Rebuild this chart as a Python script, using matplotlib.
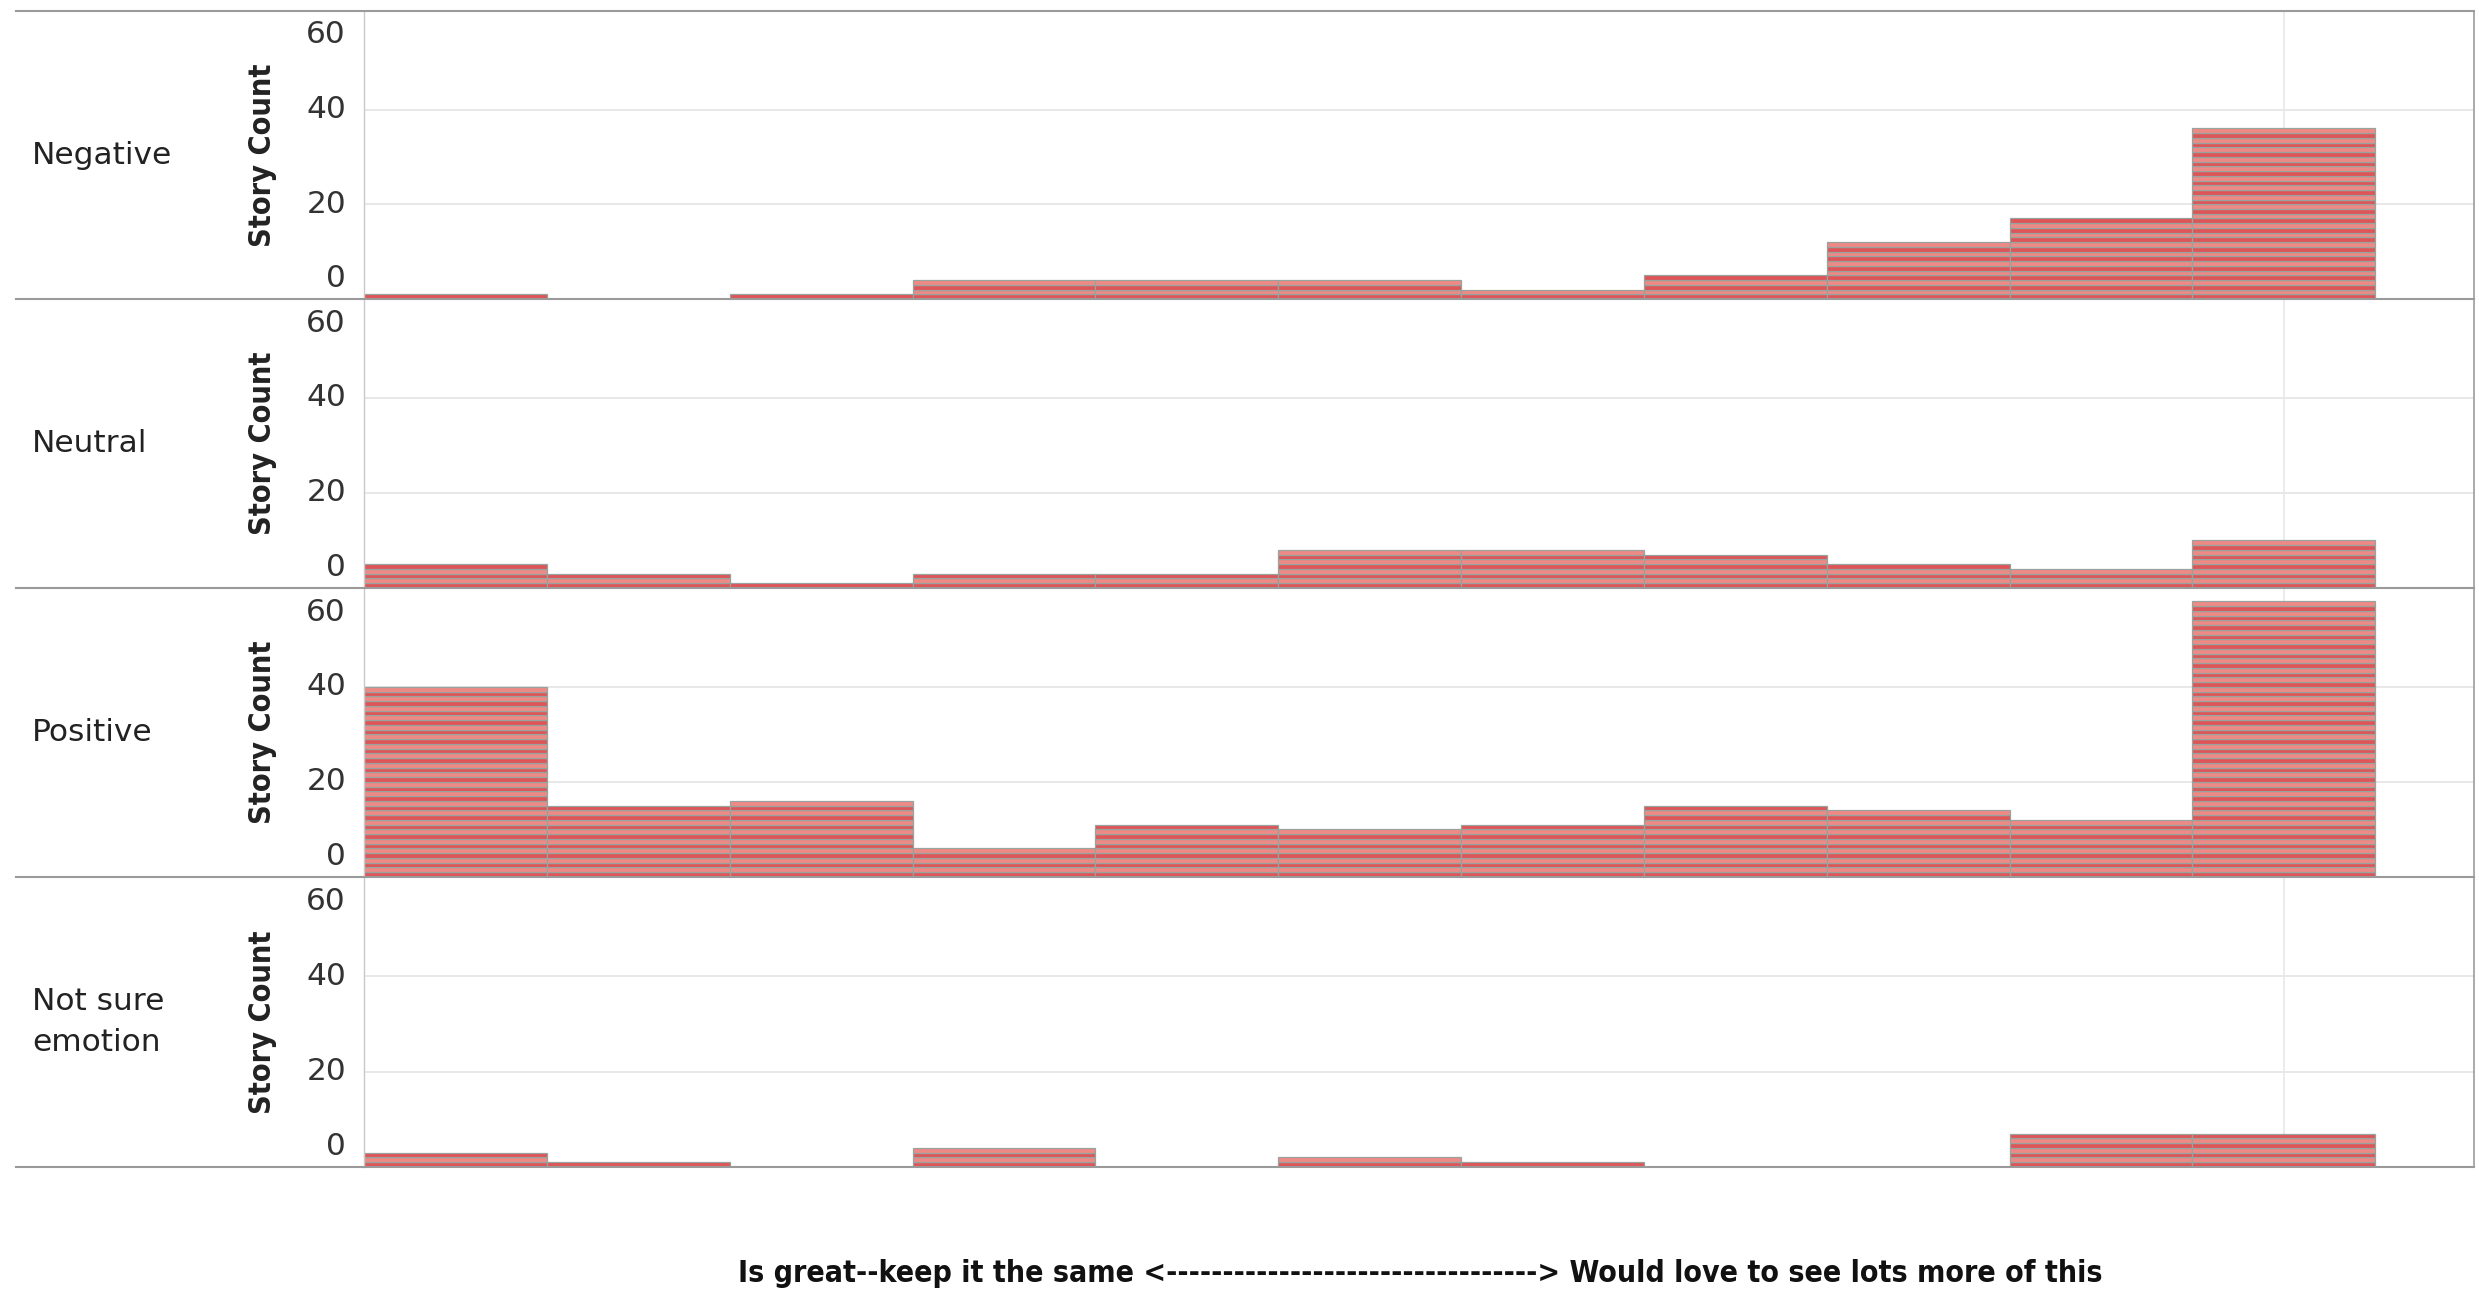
import matplotlib
matplotlib.use("Agg")
import matplotlib.pyplot as plt
from matplotlib.lines import Line2D

# score bins, left (keep it the same) to right (want lots more)
scores = list(range(11))
emotions = ["Negative", "Neutral", "Positive", "Not sure\nemotion"]

negative = [1, 0, 1, 4, 4, 4, 2, 5, 12, 17, 36]
neutral = [5, 3, 1, 3, 3, 8, 8, 7, 5, 4, 10]
positive = [40, 15, 16, 6, 11, 10, 11, 15, 14, 12, 58]
not_sure = [3, 1, 0, 4, 0, 2, 1, 0, 0, 7, 7]
counts = [negative, neutral, positive, not_sure]

y_ticks = [0, 20, 40, 60]
x_title = "Is great--keep it the same <" + "-" * 33 + "> Would love to see lots more of this"

W, H = 2479, 1298
fig = plt.figure(figsize=(W / 100, H / 100), dpi=100)
fig.patch.set_facecolor("white")

rows_px = [11, 299, 588, 877, 1167]
left_px, right_px = 364, 2474
stripe = ["#df5457", "#ee8985"]
edge = "#98a39e"

for k, (name, vals) in enumerate(zip(emotions, counts)):
    top, bot = rows_px[k], rows_px[k + 1]
    ax = fig.add_axes([left_px / W, 1 - bot / H, (right_px - left_px) / W, (bot - top) / H])
    ax.set_xlim(-0.5, 11.04)
    ax.set_ylim(0, 60.8)
    for y in [20, 40]:
        ax.axhline(y, color="#e4e4e4", lw=1.2, zorder=0)
    ax.axvline(10, color="#e8e8e8", lw=1.2, zorder=0)

    # one stacked block per story
    for x, v in zip(scores, vals):
        if v == 0:
            continue
        ax.bar([x] * v, [1] * v, bottom=list(range(v)), width=1.0,
               color=[stripe[j % 2] for j in range(v)],
               edgecolor=edge, linewidth=0.9, zorder=2)

    ax.set_xticks([])
    ax.set_yticks([])
    for s in ["top", "bottom"]:
        ax.spines[s].set_visible(False)
    ax.spines["left"].set_color("#c9c9c9")
    ax.spines["left"].set_linewidth(1.0)
    ax.spines["right"].set_color("#9c9c9c")
    ax.spines["right"].set_linewidth(1.2)

    # tick labels (0 and 60 pulled inside the panel like the original)
    ytr = ax.get_yaxis_transform()
    for t in y_ticks:
        va = "center"
        yy = t
        if t == 0:
            va, yy = "bottom", 1.2
        elif t == 60:
            va, yy = "top", 58.8
        ax.text(-0.0085, yy, str(t), transform=ytr, ha="right", va=va,
                fontsize=22.5, color="#333333")
    ax.text(-0.048, 0.5, "Story Count", transform=ax.transAxes, rotation=90,
            ha="center", va="center", fontsize=22, fontweight="bold",
            fontstretch="condensed", color="#222222")

    fig.text(32 / W, 1 - (top + bot) / 2 / H, name, ha="left", va="center",
             fontsize=22.5, color="#222222", linespacing=1.55)

# row dividers across label column and plot
for y in rows_px:
    fig.add_artist(Line2D([16 / W, right_px / W], [1 - y / H, 1 - y / H],
                          color="#9a9a9a", lw=1.5))

fig.text(1420 / W, 1 - 1274 / H, x_title, ha="center", va="center",
         fontsize=21.7, fontweight="bold", fontstretch="condensed", color="#111111")

fig.savefig("out.png", dpi=100, facecolor="white")
